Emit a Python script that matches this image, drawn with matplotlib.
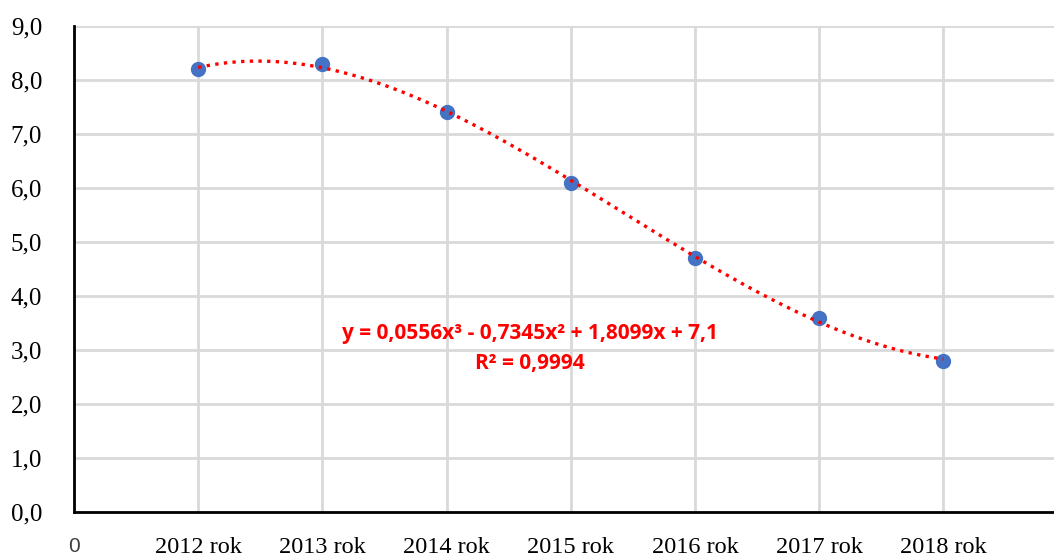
import numpy as np
import matplotlib.pyplot as plt

years = ["2012 rok", "2013 rok", "2014 rok", "2015 rok", "2016 rok", "2017 rok", "2018 rok"]
values = [8.2, 8.3, 7.4, 6.1, 4.7, 3.6, 2.8]
y_ticks = [0, 1, 2, 3, 4, 5, 6, 7, 8, 9]
equation = "y = 0,0556x³ - 0,7345x² + 1,8099x + 7,1"
r_squared = "R² = 0,9994"

fig = plt.figure(figsize=(10.54, 5.56), dpi=100)
ax = fig.add_axes([0.0702, 0.0791, 0.9298, 0.8742])

x = np.arange(1, len(values) + 1)

# cubic trend line fitted to the points
coef = np.polyfit(x, values, 3)
xs = np.linspace(1, len(values), 300)
ax.plot(xs, np.polyval(coef, xs), color="#ff0000", linestyle=(0, (1, 1.6)),
        linewidth=2.4, zorder=3)
ax.plot(x, values, "o", color="#4472c4", markersize=10, zorder=2)

ax.set_xlim(0, 7.89)
ax.set_ylim(0, 9)
ax.set_yticks(y_ticks)
ax.set_yticklabels([f"{v:.1f}".replace(".", ",") for v in y_ticks],
                   family="Liberation Serif", fontsize=18)
ax.set_xticks(np.arange(0, len(values) + 1))
ax.set_xticklabels(["0"] + years, family="Liberation Serif", fontsize=17.5)
lbl0 = ax.get_xticklabels()[0]
lbl0.set_family("Liberation Sans")
lbl0.set_fontsize(15)
lbl0.set_color("#404040")

ax.tick_params(length=0)
ax.tick_params(axis="x", pad=18)
ax.tick_params(axis="y", pad=23)
ax.grid(True, color="#d9d9d9", linewidth=2)
ax.set_axisbelow(True)
for s in ["top", "right"]:
    ax.spines[s].set_visible(False)
for s in ["left", "bottom"]:
    ax.spines[s].set_linewidth(2)
    ax.spines[s].set_color("black")

ax.text(3.67, 3.30, equation, color="#ff0000", fontsize=15, fontweight="bold",
        family="Open Sans", ha="center", va="center")
ax.text(3.67, 2.75, r_squared, color="#ff0000", fontsize=15, fontweight="bold",
        family="Open Sans", ha="center", va="center")

fig.savefig("out.png", dpi=100, facecolor="white")
